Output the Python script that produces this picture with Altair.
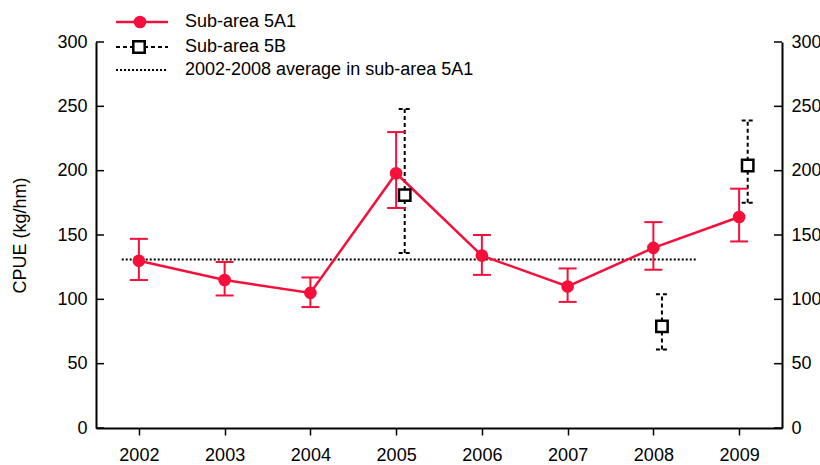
import altair as alt
import pandas as pd

# CPUE by year, sub-area 5A1 (mean with interval bounds)
years = [2002, 2003, 2004, 2005, 2006, 2007, 2008, 2009]
cpue_5a1 = [130, 115, 105, 198, 134, 110, 140, 164]
upper_5a1 = [147, 129, 117, 230, 150, 124, 160, 186]
lower_5a1 = [115, 103, 94, 171, 119, 98, 123, 145]

# CPUE by year, sub-area 5B
years_5b = [2005, 2008, 2009]
cpue_5b = [181, 79, 204]
upper_5b = [248, 104, 239]
lower_5b = [136, 61, 175]

# 2002-2008 average for 5A1 and the span over which it is drawn
avg_5a1 = 131
avg_span = [2001.8, 2008.5]

y_ticks = [0, 50, 100, 150, 200, 250, 300]

RED = "#f5103c"
BLACK = "#000000"
FONT = "Liberation Sans"
W, H = 686, 386

df_a = pd.DataFrame({"year": years, "cpue": cpue_5a1, "lo": lower_5a1, "hi": upper_5a1})
df_b = pd.DataFrame({"year": years_5b, "cpue": cpue_5b, "lo": lower_5b, "hi": upper_5b})
df_avg = pd.DataFrame({"year": avg_span, "cpue": [avg_5a1, avg_5a1]})
df_ticks = pd.DataFrame({"t": y_ticks})
one = pd.DataFrame({"k": [0]})

x_scale = alt.Scale(domain=[2001.5, 2009.5], nice=False, zero=False)
y_scale = alt.Scale(domain=[0, 300], nice=False)

x_axis = alt.Axis(
    values=years, format="d", tickSize=7, tickWidth=1.5, tickColor=BLACK,
    domainColor=BLACK, domainWidth=2, labelPadding=11, labelFontSize=18,
    labelColor=BLACK, grid=False, title="",
)


def X(field):
    return alt.X(field, type="quantitative", scale=x_scale, axis=x_axis)


def Y(field):
    return alt.Y(field, type="quantitative", scale=y_scale, axis=None)


# dotted average line
avg_line = alt.Chart(df_avg).mark_line(
    color=BLACK, strokeWidth=2, strokeDash=[2, 2]
).encode(x=X("year"), y=Y("cpue"))

# 5A1 interval bars and caps
a_bars = alt.Chart(df_a).mark_rule(color=RED, strokeWidth=2).encode(
    x=X("year"), y=Y("lo"), y2="hi"
)
a_caps = alt.Chart(df_a).transform_fold(["lo", "hi"], as_=["end", "v"]).mark_rule(
    color=RED, strokeWidth=2, xOffset=-9, x2Offset=9
).encode(x=X("year"), x2="year", y=Y("v"))
a_line = alt.Chart(df_a).mark_line(color=RED, strokeWidth=2.5).encode(
    x=X("year"), y=Y("cpue")
)
a_pts = alt.Chart(df_a).mark_circle(color=RED, size=160, opacity=1).encode(
    x=X("year"), y=Y("cpue")
)

# 5B points, shifted slightly right of the year
b_base = alt.Chart(df_b).transform_calculate(xb="datum.year + 0.1")
b_bars = b_base.mark_rule(color=BLACK, strokeWidth=2, strokeDash=[4, 3]).encode(
    x=X("xb"), y=Y("lo"), y2="hi"
)
b_caps = b_base.transform_fold(["lo", "hi"], as_=["end", "v"]).mark_rule(
    color=BLACK, strokeWidth=2, strokeDash=[4, 3], xOffset=-6, x2Offset=6
).encode(x=X("xb"), x2="xb", y=Y("v"))
b_pts = b_base.mark_point(
    shape="square", filled=True, fill="white", stroke=BLACK, strokeWidth=2.5,
    size=130, opacity=1
).encode(x=X("xb"), y=Y("cpue"))

# y axes on both sides, with inward ticks drawn as rules
y_left_axis = alt.Axis(
    orient="left", values=y_ticks, ticks=False, labelPadding=9, labelFontSize=18,
    labelColor=BLACK, domainColor=BLACK, domainWidth=2, grid=False,
    title="CPUE (kg/hm)", titleFontSize=18, titleFontWeight="normal",
    titleColor=BLACK, titlePadding=27,
)
y_right_axis = alt.Axis(
    orient="right", values=y_ticks, ticks=False, labelPadding=9, labelFontSize=18,
    labelColor=BLACK, domainColor=BLACK, domainWidth=2, grid=False, title="",
)
left_ticks = alt.Chart(df_ticks).mark_rule(color=BLACK, strokeWidth=1.5).encode(
    y=alt.Y("t:Q", scale=y_scale, axis=y_left_axis),
    x=alt.value(0), x2=alt.value(8),
)
right_ticks = alt.Chart(df_ticks).mark_rule(color=BLACK, strokeWidth=1.5).encode(
    y=alt.Y("t:Q", scale=y_scale, axis=y_right_axis),
    x=alt.value(W - 8), x2=alt.value(W),
)

# legend
rows = [-20, 5, 28]
leg = []
leg.append(alt.Chart(one).mark_rule(color=RED, strokeWidth=2.5).encode(
    x=alt.value(20), x2=alt.value(72), y=alt.value(rows[0])))
leg.append(alt.Chart(one).mark_circle(color=RED, size=160, opacity=1).encode(
    x=alt.value(44), y=alt.value(rows[0])))
leg.append(alt.Chart(one).mark_rule(color=BLACK, strokeWidth=2, strokeDash=[4, 3]).encode(
    x=alt.value(20), x2=alt.value(72), y=alt.value(rows[1])))
leg.append(alt.Chart(one).mark_point(
    shape="square", filled=True, fill="white", stroke=BLACK, strokeWidth=2.5,
    size=130, opacity=1).encode(x=alt.value(43), y=alt.value(rows[1])))
leg.append(alt.Chart(one).mark_rule(color=BLACK, strokeWidth=2, strokeDash=[2, 2]).encode(
    x=alt.value(20), x2=alt.value(72), y=alt.value(rows[2])))
labels = ["Sub-area 5A1", "Sub-area 5B", "2002-2008 average in sub-area 5A1"]
for r, lab in zip(rows, labels):
    leg.append(alt.Chart(one).mark_text(
        align="left", baseline="middle", fontSize=18, font=FONT, color=BLACK
    ).encode(x=alt.value(89), y=alt.value(r), text=alt.value(lab)))

chart = alt.layer(
    left_ticks, right_ticks, avg_line, b_bars, b_caps, a_bars, a_caps, a_line,
    a_pts, b_pts, *leg
).resolve_scale(y="independent").properties(
    width=W, height=H,
    autosize=alt.AutoSizeParams(type="none"),
    padding={"left": 96, "top": 42, "right": 38, "bottom": 37},
).configure(font=FONT).configure_view(stroke="transparent")

chart.save("out.html", embed_options={"renderer": "svg", "actions": False})
